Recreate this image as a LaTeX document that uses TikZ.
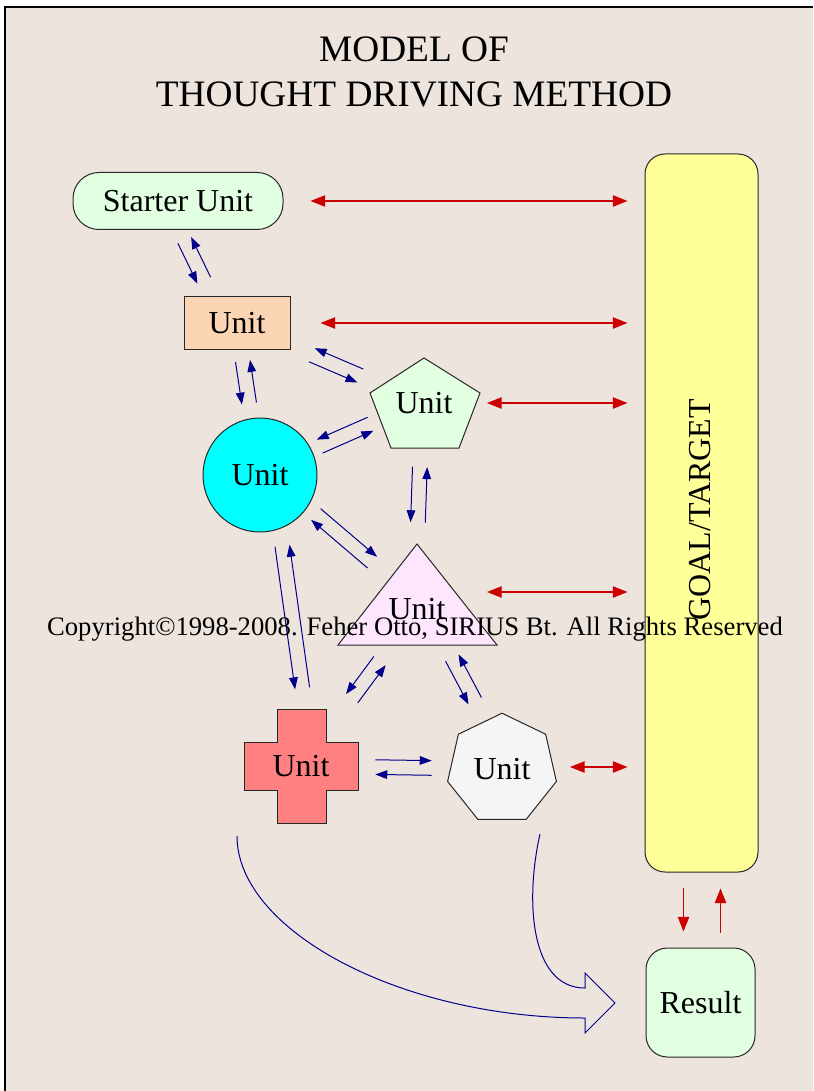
\documentclass[tikz,border=0pt]{standalone}
\usepackage{fontspec}
\setmainfont{Liberation Serif}
\usetikzlibrary{calc,arrows.meta,shapes.geometric}

\definecolor{paper}{RGB}{238,228,222}
\definecolor{mint}{RGB}{226,255,226}
\definecolor{peach}{RGB}{252,214,180}
\definecolor{aqua}{RGB}{0,255,255}
\definecolor{pinkish}{RGB}{255,230,255}
\definecolor{crossred}{RGB}{255,128,128}
\definecolor{lightgrey}{RGB}{245,245,245}
\definecolor{goalyellow}{RGB}{255,255,153}
\definecolor{navy}{RGB}{0,0,140}
\definecolor{redline}{RGB}{204,0,0}

% pair of opposite arrows between two units: from, to, start, end, side, other side, shift
\newcommand{\twoway}[7]{%
  \draw[uarr] ($(#1)!#3!(#2)!5.5pt!#5:(#2)+(#7)$) -- ($(#1)!#4!(#2)!5.5pt!#5:(#2)+(#7)$);
  \draw[uarr] ($(#1)!#4!(#2)!5.5pt!#6:(#2)+(#7)$) -- ($(#1)!#3!(#2)!5.5pt!#6:(#2)+(#7)$);
}

\begin{document}
\begin{tikzpicture}[x=0.75pt,y=-0.75pt,
    box/.style={draw=black!85,line width=0.75pt,inner sep=0pt,font=\fontsize{24}{28}\selectfont},
    lbl/.style={font=\fontsize{24}{28}\selectfont,inner sep=0pt},
    shp/.style={draw=black!85,line width=0.75pt},
    uarr/.style={navy,line width=0.75pt,-{Triangle[length=9pt,width=6.5pt]}},
    rarr/.style={redline,line width=1.1pt,{Triangle[length=11pt,width=8.5pt]}-{Triangle[length=11pt,width=8.5pt]}},
    rone/.style={redline,line width=1.1pt,-{Triangle[length=11pt,width=8.5pt]}}]
  \useasboundingbox (0,0) rectangle (813,1091);
  \fill[white] (0,0) rectangle (813,1091);
  \fill[paper] (5,7) rectangle (813,1091);
  \draw[line width=1.2pt] (5,1091) -- (5,7) -- (813,7);

  % title
  \node[align=center,font=\fontsize{28}{33.75}\selectfont] (title) at (414,72) {MODEL OF\\THOUGHT DRIVING METHOD};

  % units
  \node[box,rounded corners=19.5pt,fill=mint,minimum width=157.5pt,minimum height=42.75pt] (starter) at (178,201) {Starter Unit};
  \node[box,fill=peach,minimum width=79.5pt,minimum height=39.75pt] (unit) at (237,323) {Unit};
  \draw[shp,fill=mint] (424,358) -- (480,393) -- (459,448) -- (391,448) -- (370,393) -- cycle;
  \node[lbl] (pent) at (424,403) {Unit};
  \node[box,circle,fill=aqua,minimum size=85.5pt] (circ) at (260,475) {Unit};
  \draw[shp,fill=pinkish] (417,544) -- (497,645) -- (338,645) -- cycle;
  \node[lbl] (tri) at (417,609) {Unit};
  \draw[shp,fill=crossred] (277,709) -- (326,709) -- (326,742) -- (358,742) -- (358,790) -- (326,790)
    -- (326,823) -- (277,823) -- (277,790) -- (244,790) -- (244,742) -- (277,742) -- cycle;
  \node[lbl] (cross) at (301,766) {Unit};
  \node[box,regular polygon,regular polygon sides=7,fill=lightgrey,minimum size=83.7pt] (hept) at (502,769) {Unit};

  \node[box,rounded corners=15pt,fill=goalyellow,minimum width=84.75pt,minimum height=538.5pt] (goal) at (701.5,513) {};
  \node[lbl,rotate=90,font=\fontsize{24}{28}\selectfont] (goaltext) at (700,510) {GOAL/TARGET};
  \node[box,rounded corners=16pt,fill=mint,minimum size=81.75pt] (result) at (700.5,1002.5) {Result};

  % blue arrow pairs
  \twoway{starter}{unit}{0.28}{0.61}{-90}{90}{-10,5}
  \twoway{unit}{pent}{0.40}{0.66}{-90}{90}{0,0}
  \twoway{unit}{circ}{0.25}{0.53}{-90}{90}{0,0}
  \twoway{pent}{circ}{0.32}{0.63}{-90}{90}{-1,-2}
  \twoway{pent}{tri}{0.31}{0.58}{-90}{90}{-2,0}
  \twoway{circ}{tri}{0.33}{0.69}{90}{-90}{4,-5}
  \twoway{circ}{cross}{0.25}{0.74}{-90}{90}{12,-2}
  \twoway{tri}{cross}{0.33}{0.57}{-90}{90}{1,0}
  \twoway{tri}{hept}{0.33}{0.60}{-90}{90}{7,-4}
  \twoway{cross}{hept}{0.37}{0.65}{90}{-90}{0,0}

  % red arrows to the goal
  \draw[rarr] ($(starter.east)+(27,0)$) -- ($(starter.east -| goal.west)+(-17,0)$);
  \draw[rarr] ($(unit.east)+(30,0)$) -- ($(unit.east -| goal.west)+(-17,0)$);
  \draw[rarr] ($(pent)+(63,0)$) -- ($(pent -| goal.west)+(-17,0)$);
  \draw[rarr] ($(tri)+(70,-17)$) -- ($(tri -| goal.west)+(-17,-17)$);
  \draw[rarr] ($(hept)+(68,-2)$) -- ($(hept -| goal.west)+(-17,-2)$);
  \draw[rone] ($(goal.south)+(-18,15)$) -- ($(result.north)+(-17,-16)$);
  \draw[rone] ($(result.north)+(20,-15)$) -- ($(goal.south)+(19,16)$);

  % curved block arrow into the result
  \draw[navy,line width=0.75pt] (237,836) .. controls (237,930) and (400,1018) .. (585,1018)
    -- (585,1033) -- (615,1003) -- (585,973) -- (585,988)
    .. controls (530,988) and (525,900) .. (540,834);

  \node[font=\fontsize{20}{24}\selectfont,anchor=base,inner sep=0pt] (copy) at (415,635) {Copyright©1998-2008. Feher Otto, SIRIUS Bt. All Rights Reserved};
\end{tikzpicture}
\end{document}
